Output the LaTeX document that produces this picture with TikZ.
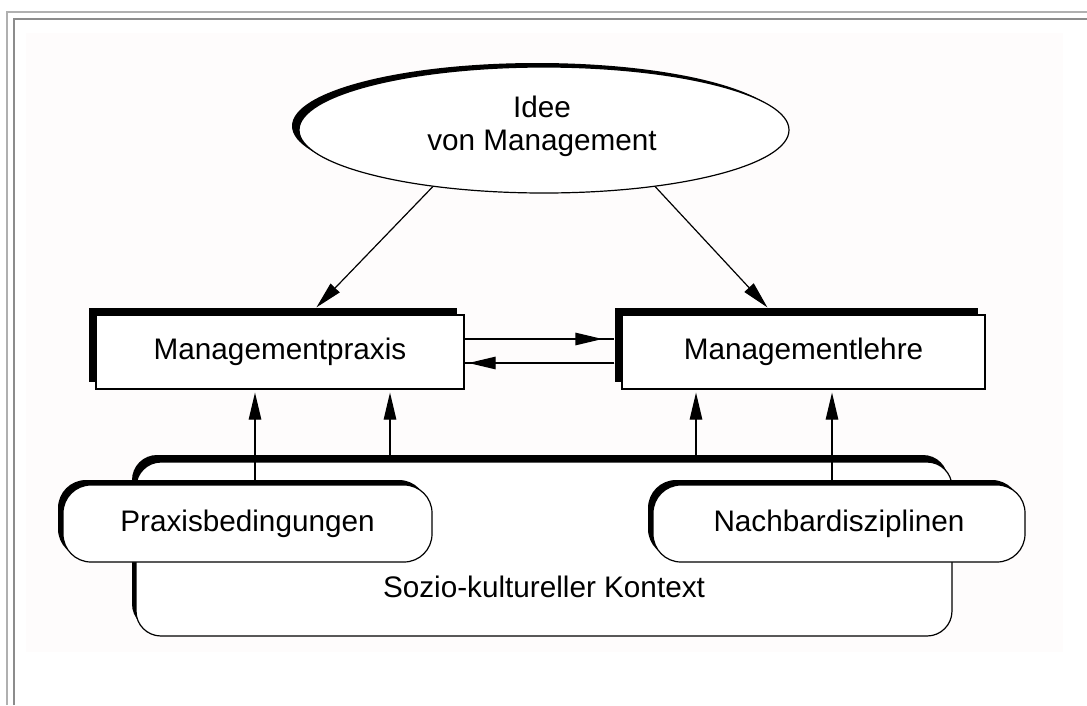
\documentclass[tikz,border=0pt]{standalone}
\usepackage{fontspec}
\setmainfont{Liberation Sans}
\usetikzlibrary{shapes.geometric,shadows,arrows.meta,calc}
\definecolor{paper}{RGB}{254,252,252}
\definecolor{frameA}{RGB}{176,176,176}
\definecolor{frameB}{RGB}{140,140,140}
\begin{document}
\begin{tikzpicture}[x=1pt,y=-1pt,
  lbl/.style={font=\fontsize{29.7}{33}\selectfont, inner sep=0pt},
  plainbox/.style={draw=black, line width=1.2pt, fill=white, inner sep=0pt,
    minimum height=74pt, lbl},
  shadowed/.style 2 args={general shadow={fill=black, shadow xshift=#1, shadow yshift=#2}},
  roundbox/.style={draw=black, line width=1.2pt, fill=white, inner sep=0pt,
    rounded corners=28pt, minimum height=77pt, lbl, shadowed={-5pt}{5pt}},
  arr/.style={line width=1.2pt, -{Triangle[length=27pt,width=12.5pt]}},
  link/.style={line width=1.2pt}]

\useasboundingbox (0,0) rectangle (1087,705);

% page frame and paper
\fill[paper] (26,33) rectangle (1063,652);
\draw[frameA, line width=2pt] (7,705) -- (7,12) -- (1087,12);
\draw[frameB, line width=2pt] (14,705) -- (14,19) -- (1087,19);

% idea ellipse
\node[ellipse, draw=black, line width=1.2pt, fill=white, inner sep=0pt,
      minimum width=490pt, minimum height=126pt, shadowed={-7pt}{4pt}]
      (idee) at (544,130) {};
\node[lbl, anchor=base] (ideeA) at (542,117) {Idee};
\node[lbl, anchor=base] (ideeB) at (542,150) {von Management};

% practice and theory boxes
\node[plainbox, minimum width=368pt, shadowed={-7.5pt}{7pt}] (praxis) at (280,352) {Managementpraxis};
\node[plainbox, minimum width=363pt, shadowed={-7pt}{7pt}] (lehre) at (803.5,352) {Managementlehre};

% context
\node[draw=black, line width=1.2pt, fill=white, inner sep=0pt, rounded corners=25pt,
      minimum width=816pt, minimum height=174pt, shadowed={-4pt}{7pt}] (sozio) at (544,549) {};
\node[lbl, anchor=base] (soziotext) at (544,597) {Sozio-kultureller Kontext};

\node[roundbox, minimum width=369pt] (praxisb) at (247.5,523.5) {Praxisbedingungen};
\node[roundbox, minimum width=372pt] (nachbar) at (839,523.5) {Nachbardisziplinen};

% connectors
\draw[arr] (idee.207) -- ($(praxis.north west)+(221,-7)$);
\draw[arr] (idee.-27) -- ($(lehre.north west)+(146,-7)$);

\draw[link] ([yshift=13pt]praxis.east) -- ([xshift=-7pt,yshift=13pt]lehre.west);
\draw[arr, shorten >=12pt] ([yshift=13pt]praxis.east) -- ([xshift=-7pt,yshift=13pt]lehre.west);
\draw[link] ([xshift=-7pt,yshift=-11pt]lehre.west) -- ([yshift=-11pt]praxis.east);
\draw[arr, shorten >=4pt] ([xshift=-7pt,yshift=-11pt]lehre.west) -- ([yshift=-11pt]praxis.east);

\coordinate (xa) at (255,0);
\coordinate (xb) at (390,0);
\coordinate (xc) at (696,0);
\coordinate (xd) at (832,0);
\draw[arr, shorten >=3pt] (praxisb.north -| xa) -- (praxis.south -| xa);
\draw[arr, shorten >=3pt] (sozio.north -| xb) -- (praxis.south -| xb);
\draw[arr, shorten >=3pt] (sozio.north -| xc) -- (lehre.south -| xc);
\draw[arr, shorten >=3pt] (nachbar.north -| xd) -- (lehre.south -| xd);
\end{tikzpicture}
\end{document}
